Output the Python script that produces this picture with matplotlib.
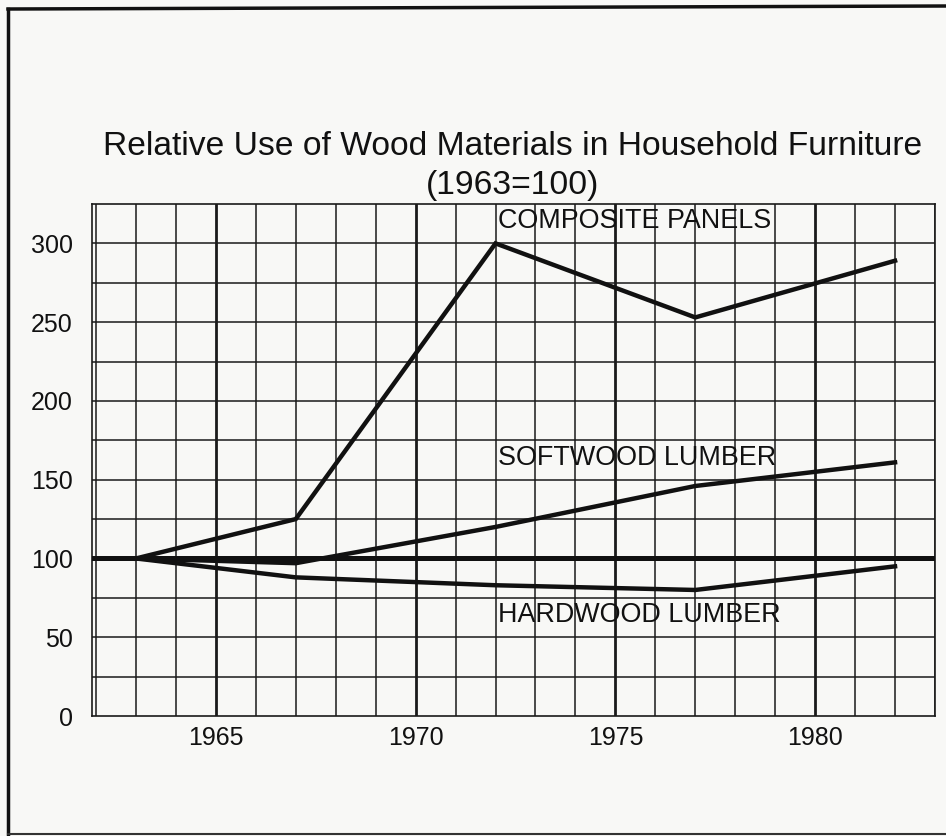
import matplotlib
matplotlib.use("Agg")
import matplotlib.pyplot as plt
from matplotlib.lines import Line2D
import numpy as np

years = [1963, 1967, 1972, 1977, 1982]
composite = [100, 125, 300, 253, 289]
softwood = [100, 97, 120, 146, 161]
hardwood = [100, 88, 83, 80, 95]
baseline = 100
series_labels = ["COMPOSITE PANELS", "SOFTWOOD LUMBER", "HARDWOOD LUMBER"]
label_y = [314, 164, 64]
label_x = 1972.05
xticks = [1965, 1970, 1975, 1980]
yticks = [0, 50, 100, 150, 200, 250, 300]
title1 = "Relative Use of Wood Materials in Household Furniture"
title2 = "(1963=100)"

plt.rcParams['font.family'] = ['Liberation Sans', 'DejaVu Sans']

W, H = 946, 836
bg = '#f8f8f6'
fig = plt.figure(figsize=(W/100, H/100), dpi=100, facecolor=bg)
ax = fig.add_axes([92/W, 1-716/H, (935-92)/W, (716-204)/H])
ax.set_facecolor(bg)

x0, x1 = 1961.9, 1983.0
ax.set_xlim(x0, x1)
ax.set_ylim(0, 325)

# grid
for yr in range(1962, 1984):
    lw = 2.0 if yr % 5 == 0 else 1.1
    ax.axvline(yr, color='#1a1a1a', lw=lw, zorder=1)
for v in range(25, 325, 25):
    ax.axhline(v, color='#1a1a1a', lw=1.1, zorder=1)

for s in ax.spines.values():
    s.set_linewidth(1.2)
    s.set_color('#1a1a1a')

ax.axhline(baseline, color='#111111', lw=3.6, zorder=3)
for data in (composite, softwood, hardwood):
    ax.plot(years, data, color='#111111', lw=3.2, zorder=4, solid_joinstyle='miter')

for lab, yv in zip(series_labels, label_y):
    ax.text(label_x, yv, lab, fontsize=19.4, ha='left', va='center', color='#111111', zorder=5)

ax.set_xticks(xticks)
ax.set_xticklabels([str(t) for t in xticks], fontsize=18, color='#111111')
ax.set_yticks(yticks)
ax.set_yticklabels([str(t) for t in yticks], fontsize=18, color='#111111')
ax.tick_params(axis='both', length=0)
ax.tick_params(axis='y', pad=14)
ax.tick_params(axis='x', pad=7)

fig.text(513/W, 1-155/H, title1, fontsize=24.2, ha='center', va='baseline', color='#111111')
fig.text(513/W, 1-194/H, title2, fontsize=24.2, ha='center', va='baseline', color='#111111')

# outer frame
fig.add_artist(Line2D([8/W, 8/W], [1-9/H, 1-834/H], color='#111111', lw=2.5))
fig.add_artist(Line2D([8/W, 1.0], [1-9/H, 1-6/H], color='#111111', lw=2.5))
fig.add_artist(Line2D([8/W, 1.0], [1-834/H, 1-834/H], color='#333333', lw=1.5))

fig.savefig('out.png', dpi=100, facecolor=bg)
